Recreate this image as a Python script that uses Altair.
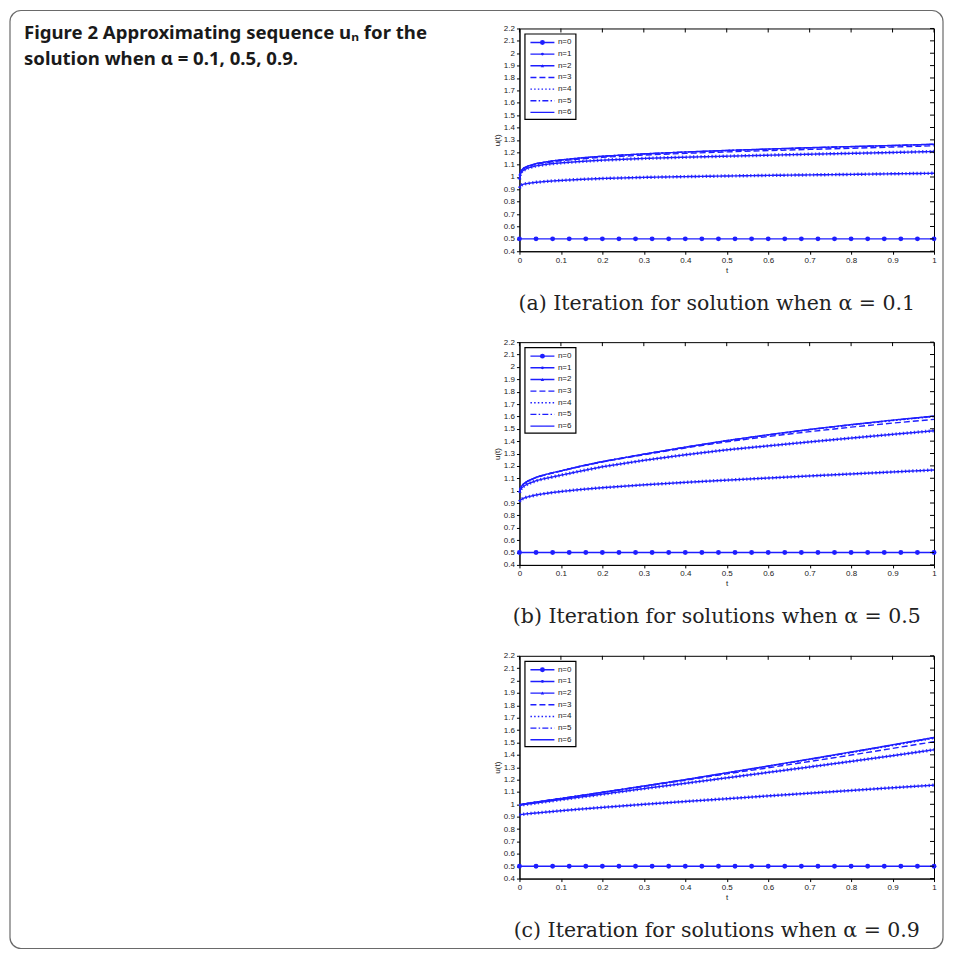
import altair as alt
import pandas as pd

# ---------------- data ----------------
T = [0, 0.002, 0.005, 0.01, 0.02, 0.04, 0.06, 0.08, 0.1, 0.15, 0.2, 0.3, 0.4, 0.5, 0.6, 0.7, 0.8, 0.9, 1.0]

T0 = [0, 0.04, 0.08, 0.12, 0.16, 0.2, 0.24, 0.28, 0.32, 0.36, 0.4, 0.44, 0.48,
      0.52, 0.56, 0.6, 0.64, 0.68, 0.72, 0.76, 0.8, 0.84, 0.88, 0.92, 0.96, 1.0]
U0 = [0.5, 0.5, 0.5, 0.5, 0.5, 0.5, 0.5, 0.5, 0.5, 0.5, 0.5, 0.5, 0.5,
      0.5, 0.5, 0.5, 0.5, 0.5, 0.5, 0.5, 0.5, 0.5, 0.5, 0.5, 0.5, 0.5]

# alpha = 0.1
A1 = [0.910, 0.925, 0.935, 0.942, 0.948, 0.957, 0.963, 0.968, 0.972, 0.981, 0.988, 0.997, 1.003, 1.008, 1.013, 1.017, 1.021, 1.026, 1.030]
A2 = [0.980, 1.020, 1.040, 1.055, 1.072, 1.090, 1.100, 1.108, 1.114, 1.126, 1.136, 1.150, 1.160, 1.168, 1.176, 1.184, 1.191, 1.198, 1.206]
A3 = [0.985, 1.028, 1.052, 1.068, 1.084, 1.103, 1.114, 1.123, 1.131, 1.147, 1.159, 1.177, 1.191, 1.203, 1.213, 1.223, 1.232, 1.242, 1.252]
A4 = [0.985, 1.030, 1.055, 1.071, 1.087, 1.107, 1.119, 1.129, 1.137, 1.154, 1.167, 1.186, 1.201, 1.213, 1.224, 1.235, 1.244, 1.253, 1.263]
A5 = [0.985, 1.030, 1.055, 1.072, 1.088, 1.108, 1.120, 1.130, 1.138, 1.155, 1.168, 1.187, 1.202, 1.214, 1.225, 1.236, 1.245, 1.254, 1.264]
A6 = [0.985, 1.030, 1.055, 1.072, 1.088, 1.108, 1.120, 1.130, 1.138, 1.155, 1.168, 1.187, 1.202, 1.215, 1.226, 1.237, 1.246, 1.255, 1.265]

# alpha = 0.5
B1 = [0.911, 0.921, 0.930, 0.939, 0.950, 0.965, 0.976, 0.985, 0.993, 1.010, 1.024, 1.047, 1.067, 1.085, 1.102, 1.119, 1.135, 1.151, 1.167]
B2 = [0.983, 1.005, 1.020, 1.035, 1.055, 1.080, 1.097, 1.111, 1.125, 1.160, 1.193, 1.245, 1.290, 1.330, 1.362, 1.394, 1.425, 1.455, 1.484]
B3 = [0.990, 1.017, 1.036, 1.054, 1.077, 1.106, 1.126, 1.143, 1.158, 1.197, 1.232, 1.290, 1.345, 1.395, 1.438, 1.477, 1.513, 1.546, 1.576]
B4 = [0.990, 1.018, 1.037, 1.055, 1.078, 1.108, 1.128, 1.145, 1.160, 1.200, 1.235, 1.294, 1.350, 1.403, 1.449, 1.492, 1.530, 1.566, 1.598]
B5 = [0.990, 1.018, 1.037, 1.055, 1.078, 1.108, 1.128, 1.145, 1.160, 1.200, 1.235, 1.295, 1.351, 1.404, 1.451, 1.494, 1.532, 1.568, 1.601]
B6 = [0.990, 1.018, 1.037, 1.055, 1.078, 1.108, 1.128, 1.145, 1.160, 1.200, 1.235, 1.295, 1.352, 1.405, 1.452, 1.495, 1.534, 1.570, 1.603]

# alpha = 0.9
C1 = [0.915, 0.916, 0.918, 0.920, 0.924, 0.930, 0.936, 0.942, 0.948, 0.962, 0.975, 1.000, 1.023, 1.045, 1.068, 1.090, 1.112, 1.134, 1.155]
C2 = [0.990, 0.992, 0.994, 0.997, 1.002, 1.011, 1.020, 1.029, 1.038, 1.060, 1.082, 1.127, 1.170, 1.214, 1.258, 1.302, 1.347, 1.393, 1.441]
C3 = [0.995, 0.997, 0.999, 1.002, 1.008, 1.018, 1.027, 1.037, 1.046, 1.070, 1.095, 1.145, 1.195, 1.246, 1.295, 1.346, 1.398, 1.452, 1.506]
C4 = [0.995, 0.997, 0.999, 1.002, 1.008, 1.018, 1.028, 1.038, 1.047, 1.072, 1.097, 1.147, 1.198, 1.252, 1.306, 1.361, 1.417, 1.474, 1.533]
C5 = [0.995, 0.997, 0.999, 1.002, 1.008, 1.018, 1.028, 1.038, 1.047, 1.072, 1.097, 1.148, 1.199, 1.254, 1.308, 1.364, 1.421, 1.478, 1.538]
C6 = [0.995, 0.997, 0.999, 1.002, 1.008, 1.018, 1.028, 1.038, 1.047, 1.072, 1.097, 1.148, 1.200, 1.255, 1.310, 1.366, 1.423, 1.481, 1.541]

XTICKS = [0, 0.1, 0.2, 0.3, 0.4, 0.5, 0.6, 0.7, 0.8, 0.9, 1]
YTICKS = [0.4, 0.5, 0.6, 0.7, 0.8, 0.9, 1, 1.1, 1.2, 1.3, 1.4, 1.5, 1.6, 1.7, 1.8, 1.9, 2, 2.1, 2.2]
NAMES = ["n=0", "n=1", "n=2", "n=3", "n=4", "n=5", "n=6"]

FIG_TITLE = ["Figure 2  Approximating sequence uₙ for the", "solution when α = 0.1, 0.5, 0.9."]
CAPTIONS = ["(a) Iteration for solution when α = 0.1",
            "(b) Iteration for solutions when α = 0.5",
            "(c) Iteration for solutions when α = 0.9"]

# ---------------- styles ----------------
BLUE = "#1e1eff"
W, H = 415, 223
DASH = {"n=1": [1, 0], "n=2": [1, 0], "n=3": [6, 3], "n=4": [1.5, 2.2],
        "n=5": [6, 2.2, 1.5, 2.2], "n=6": [1, 0]}
dummy = pd.DataFrame({"d": [0]})


def panel(series, caption, first=False):
    rows = []
    for t, u in zip(T0, U0):
        rows.append({"kind": "n=0", "t": t, "u": u})
    for name, vals in zip(NAMES[1:], series):
        for t, u in zip(T, vals):
            rows.append({"kind": name, "t": t, "u": u})
    for v in XTICKS:
        rows.append({"kind": "xtick", "t": v, "u": None})
    for v in YTICKS:
        rows.append({"kind": "ytick", "t": None, "u": v})
    df = pd.DataFrame(rows)

    X = alt.X("t:Q", scale=alt.Scale(domain=[0, 1], nice=False, zero=False),
              axis=alt.Axis(values=XTICKS, format="~g", title="t", labelFlush=False,
                            labelOverlap=False, titleX=W / 2, titleY=19,
                            titleBaseline="middle"))
    Y = alt.Y("u:Q", scale=alt.Scale(domain=[0.4, 2.2], nice=False, zero=False),
              axis=alt.Axis(values=YTICKS, format="~g", title="u(t)", labelFlush=False,
                            labelOverlap=False, titleX=-22, titleY=H / 2,
                            titleAngle=270, titleBaseline="middle"))
    base = alt.Chart(df).encode(x=X, y=Y)

    layers = []
    if first:
        layers.append(alt.Chart(dummy).mark_rect(filled=False, stroke="#6a6a6a", strokeWidth=1.2,
                                                 cornerRadius=11).encode(
            x=alt.value(-510), x2=alt.value(424), y=alt.value(-18), y2=alt.value(921)))
        for i, line in enumerate(FIG_TITLE):
            layers.append(alt.Chart(dummy).mark_text(
                align="left", baseline="alphabetic", font="Noto Sans", fontWeight="bold",
                fontSize=18.6, color="#1a1a1a").encode(
                x=alt.value(-496), y=alt.value(11 + 26 * i), text=alt.value(line)))

    f = lambda k: base.transform_filter(f"datum.kind == '{k}'")
    layers.append(f("n=0").mark_line(color=BLUE, strokeWidth=1.4))
    layers.append(f("n=0").mark_point(filled=True, shape="circle", size=24, color=BLUE, opacity=1))
    for name in NAMES[1:]:
        layers.append(f(name).mark_line(color=BLUE, strokeWidth=1.4, strokeDash=DASH[name]))
        if name in ("n=1", "n=2"):
            layers.append(f(name).mark_line(color=BLUE, strokeWidth=3.4,
                                            strokeDash=[1.3, 2.4], opacity=0.85))
    # inward ticks on top and right (box)
    layers.append(f("xtick").mark_rule(color="black", strokeWidth=1).encode(
        y=alt.value(0), y2=alt.value(4)))
    layers.append(f("ytick").mark_rule(color="black", strokeWidth=1).encode(
        x=alt.value(W - 4), x2=alt.value(W)))

    # legend box
    layers.append(alt.Chart(dummy).mark_rect(fill="white", stroke="black", strokeWidth=1.2).encode(
        x=alt.value(5.5), x2=alt.value(56.5), y=alt.value(5.5), y2=alt.value(91)))
    for i, name in enumerate(NAMES):
        yy = 14 + i * 11.67
        dash = [1, 0] if name in ("n=0", "n=1", "n=2") else DASH[name]
        layers.append(alt.Chart(dummy).mark_rule(color=BLUE, strokeWidth=1.4, strokeDash=dash).encode(
            x=alt.value(11), x2=alt.value(35), y=alt.value(yy)))
        if name == "n=0":
            layers.append(alt.Chart(dummy).mark_point(filled=True, shape="circle", size=24,
                                                      color=BLUE, opacity=1).encode(
                x=alt.value(23), y=alt.value(yy)))
        elif name == "n=1":
            layers.append(alt.Chart(dummy).mark_point(filled=True, shape="circle", size=8,
                                                      color=BLUE, opacity=1).encode(
                x=alt.value(23), y=alt.value(yy)))
        elif name == "n=2":
            layers.append(alt.Chart(dummy).mark_point(filled=True, shape="triangle-up", size=12,
                                                      color=BLUE, opacity=1).encode(
                x=alt.value(23), y=alt.value(yy)))
        layers.append(alt.Chart(dummy).mark_text(align="left", baseline="middle",
                                                 font="Liberation Sans", fontSize=8,
                                                 color="#222").encode(
            x=alt.value(38.5), y=alt.value(yy), text=alt.value(name)))

    # caption
    layers.append(alt.Chart(dummy).mark_text(align="center", baseline="middle",
                                             font="DejaVu Serif", fontSize=20.5,
                                             color="#222").encode(
        x=alt.value(197.5), y=alt.value(275.5), text=alt.value(caption)))

    return alt.layer(*layers).properties(width=W, height=H)


pa = panel([A1, A2, A3, A4, A5, A6], CAPTIONS[0], first=True)
pb = panel([B1, B2, B3, B4, B5, B6], CAPTIONS[1])
pc = panel([C1, C2, C3, C4, C5, C6], CAPTIONS[2])

chart = alt.vconcat(pa, pb, pc, spacing=91, bounds="flush").properties(
    padding=0, background="white"
).configure_view(stroke="black", strokeWidth=1).configure_axis(
    labelFont="Liberation Sans", labelFontSize=8, labelColor="#222",
    titleFont="Liberation Sans", titleFontSize=8, titleFontWeight="normal", titleColor="#222",
    tickColor="black", domainColor="black", grid=False, labelPadding=2, tickSize=3
)

chart.save("out.html", embed_options={"renderer": "svg", "actions": False})
